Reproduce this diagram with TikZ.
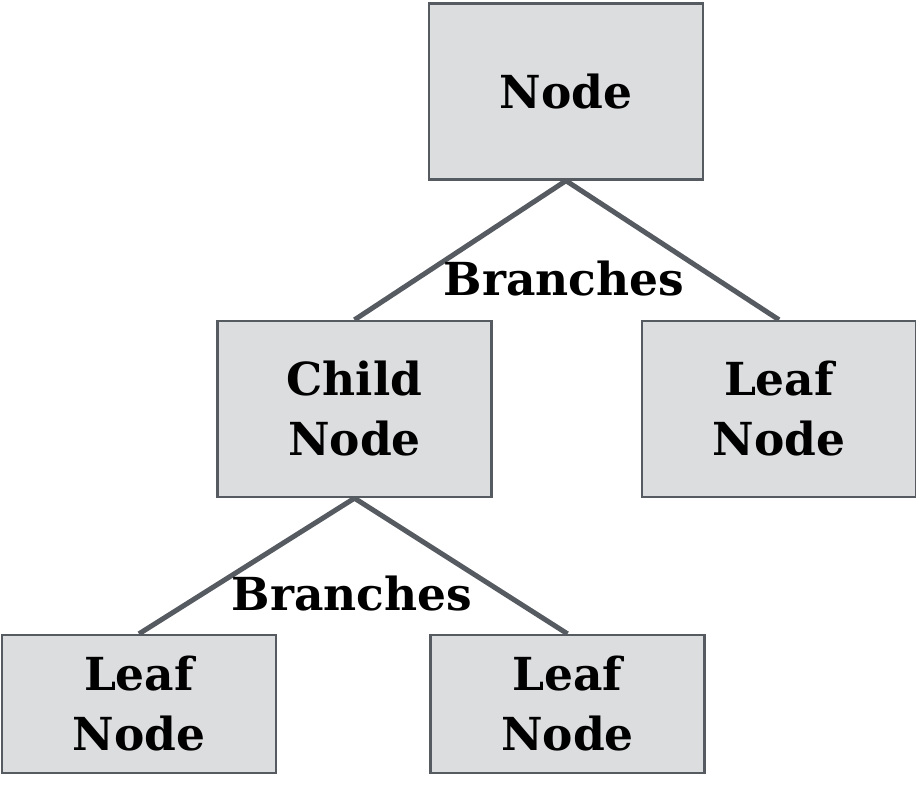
\documentclass[tikz,border=0pt]{standalone}
\usepackage{fontspec}
\setmainfont{DejaVu Serif}
\usepackage{tikz}
\usetikzlibrary{positioning}
\definecolor{boxfill}{HTML}{DCDDDF}
\definecolor{edgegray}{HTML}{565B61}

\begin{document}
\begin{tikzpicture}[x=1pt, y=-1pt, box/.style={draw=edgegray,fill=boxfill,line width=2.4pt,minimum width=274pt,minimum height=176pt,align=center,inner sep=0pt,font=\fontsize{45.5}{60}\selectfont\bfseries}, lbl/.style={inner sep=0pt,anchor=base,font=\fontsize{45.5}{60}\selectfont\bfseries}, branch/.style={draw=edgegray,line width=5pt}]
\useasboundingbox (0,0) rectangle (916,793);
\node[box] (root) at (566,91.5) {Node};
\node[box] (child) at (354.5,409) {Child\\Node};
\node[box] (leafr) at (779,409) {Leaf\\Node};
\node[box,minimum height=138pt] (leafa) at (139,704) {Leaf\\Node};
\node[box,minimum height=138pt] (leafb) at (567.5,704) {Leaf\\Node};
\draw[branch] (root.south)--(child.north);
\draw[branch] (root.south)--(leafr.north);
\draw[branch] (child.south)--(leafa.north);
\draw[branch] (child.south)--(leafb.north);
\node[lbl] (br1) at (564,295) {Branches};
\node[lbl] (br2) at (352,610) {Branches};
\end{tikzpicture}
\end{document}
